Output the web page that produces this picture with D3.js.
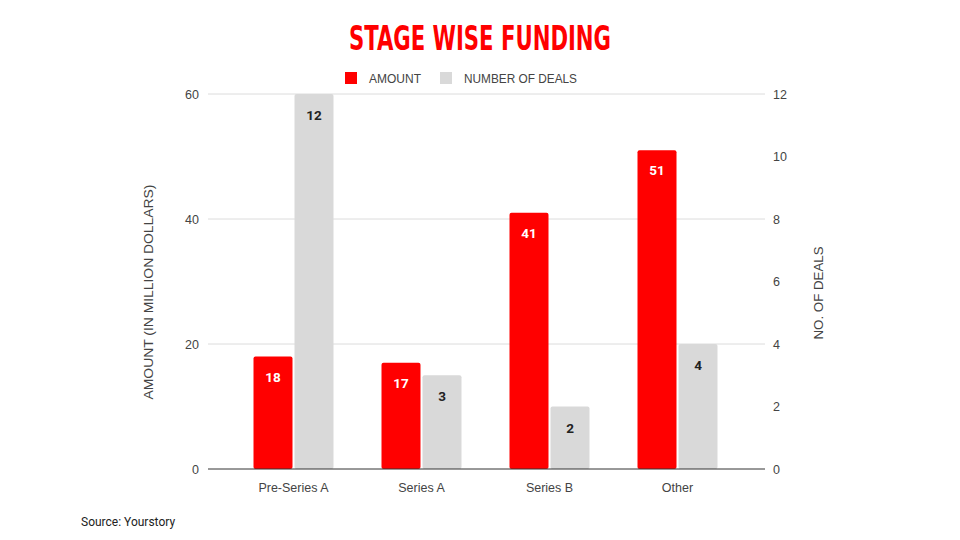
<!DOCTYPE html>
<html><head><meta charset="utf-8">
<script src="https://cdn.jsdelivr.net/npm/d3@7"></script>
<style>body{margin:0;background:#fff;}svg{display:block;}</style>
</head><body>
<script>
const categories = ["Pre-Series A", "Series A", "Series B", "Other"];
const amount = [18, 17, 41, 51];
const deals = [12, 3, 2, 4];
const leftTicks = [0, 20, 40, 60];
const rightTicks = [0, 2, 4, 6, 8, 10, 12];

const W = 960, H = 540;
const svg = d3.select("body").append("svg").attr("width", W).attr("height", H);
const font = "Roboto, 'Liberation Sans', sans-serif";
const afont = "'Liberation Sans', Arial, sans-serif";
const red = "#ff0000", grey = "#d9d9d9", txt = "#444";

const plotL = 208, plotR = 765, plotTop = 94, plotBottom = 469;
const x = d3.scaleBand().domain(categories).range([229.5, 741.5]).paddingInner(0).paddingOuter(0);
const yL = d3.scaleLinear().domain([0, 60]).range([plotBottom, plotTop]);
const yR = d3.scaleLinear().domain([0, 12]).range([plotBottom, plotTop]);

// title
svg.append("text").attr("x", 480).attr("y", 50).attr("text-anchor", "middle")
  .attr("font-family", "'Liberation Sans Narrow', 'DejaVu Sans Condensed', sans-serif")
  .attr("font-weight", "bold").attr("font-size", 34).attr("fill", red)
  .attr("textLength", 262).attr("lengthAdjust", "spacingAndGlyphs")
  .text("STAGE WISE FUNDING");

// legend
const leg = svg.append("g").attr("font-family", afont).attr("font-size", 13).attr("fill", txt);
leg.append("rect").attr("x", 345).attr("y", 72).attr("width", 12).attr("height", 12).attr("fill", red);
leg.append("text").attr("x", 369).attr("y", 83).attr("textLength", 52).attr("lengthAdjust", "spacingAndGlyphs").text("AMOUNT");
leg.append("rect").attr("x", 440).attr("y", 72).attr("width", 12).attr("height", 12).attr("fill", grey);
leg.append("text").attr("x", 464).attr("y", 83).attr("textLength", 113).attr("lengthAdjust", "spacingAndGlyphs").text("NUMBER OF DEALS");

// gridlines
svg.append("g").selectAll("line").data(leftTicks.filter(d => d > 0)).join("line")
  .attr("x1", plotL).attr("x2", plotR).attr("y1", d => yL(d)).attr("y2", d => yL(d))
  .attr("stroke", "#dcdcdc").attr("stroke-width", 1);

// left axis
const lAxis = svg.append("g").attr("transform", `translate(${plotL},0)`)
  .call(d3.axisLeft(yL).tickValues(leftTicks).tickSize(0).tickPadding(9));
lAxis.select(".domain").remove();
lAxis.selectAll("text").attr("font-family", afont).attr("font-size", 12.5).attr("fill", txt);

// right axis
const rAxis = svg.append("g").attr("transform", `translate(${plotR},0)`)
  .call(d3.axisRight(yR).tickValues(rightTicks).tickSize(0).tickPadding(8));
rAxis.select(".domain").remove();
rAxis.selectAll("text").attr("font-family", afont).attr("font-size", 12.5).attr("fill", txt);

// bars
const bw = 39, gap = 2;
const g = svg.append("g");
g.selectAll(".amt").data(categories).join("rect").attr("class", "amt")
  .attr("x", d => x(d) + x.bandwidth() / 2 - gap / 2 - bw)
  .attr("y", (d, i) => yL(amount[i])).attr("width", bw)
  .attr("height", (d, i) => plotBottom - yL(amount[i]))
  .attr("rx", 2).attr("fill", red);
g.selectAll(".dl").data(categories).join("rect").attr("class", "dl")
  .attr("x", d => x(d) + x.bandwidth() / 2 + gap / 2)
  .attr("y", (d, i) => yR(deals[i])).attr("width", bw)
  .attr("height", (d, i) => plotBottom - yR(deals[i]))
  .attr("rx", 2).attr("fill", grey);

// bar labels
g.selectAll(".amtl").data(categories).join("text")
  .attr("x", d => x(d) + x.bandwidth() / 2 - gap / 2 - bw / 2)
  .attr("y", (d, i) => yL(amount[i]) + 25).attr("text-anchor", "middle")
  .attr("font-family", font).attr("font-weight", "bold").attr("font-size", 13.5).attr("fill", "#fff")
  .text((d, i) => amount[i]);
g.selectAll(".dll").data(categories).join("text")
  .attr("x", d => x(d) + x.bandwidth() / 2 + gap / 2 + bw / 2)
  .attr("y", (d, i) => yR(deals[i]) + 26).attr("text-anchor", "middle")
  .attr("font-family", font).attr("font-weight", "bold").attr("font-size", 13.5).attr("fill", "#222")
  .text((d, i) => deals[i]);

// baseline
svg.append("line").attr("x1", plotL).attr("x2", plotR).attr("y1", plotBottom).attr("y2", plotBottom)
  .attr("stroke", "#333").attr("stroke-width", 1);

// x axis labels
svg.append("g").selectAll("text").data(categories).join("text")
  .attr("x", d => x(d) + x.bandwidth() / 2).attr("y", 492).attr("text-anchor", "middle")
  .attr("font-family", afont).attr("font-size", 12.5).attr("fill", txt).text(d => d);

// axis titles
svg.append("text").attr("transform", `translate(153,292) rotate(-90)`).attr("text-anchor", "middle")
  .attr("font-family", afont).attr("font-size", 13.5).attr("fill", txt)
  .attr("textLength", 215).attr("lengthAdjust", "spacingAndGlyphs").text("AMOUNT (IN MILLION DOLLARS)");
svg.append("text").attr("transform", `translate(823,293) rotate(-90)`).attr("text-anchor", "middle")
  .attr("font-family", afont).attr("font-size", 13.5).attr("fill", txt)
  .attr("textLength", 93).attr("lengthAdjust", "spacingAndGlyphs").text("NO. OF DEALS");

// source
svg.append("text").attr("x", 81).attr("y", 526).attr("font-family", font).attr("font-size", 12)
  .attr("fill", "#222").text("Source: Yourstory");
</script>
</body></html>
